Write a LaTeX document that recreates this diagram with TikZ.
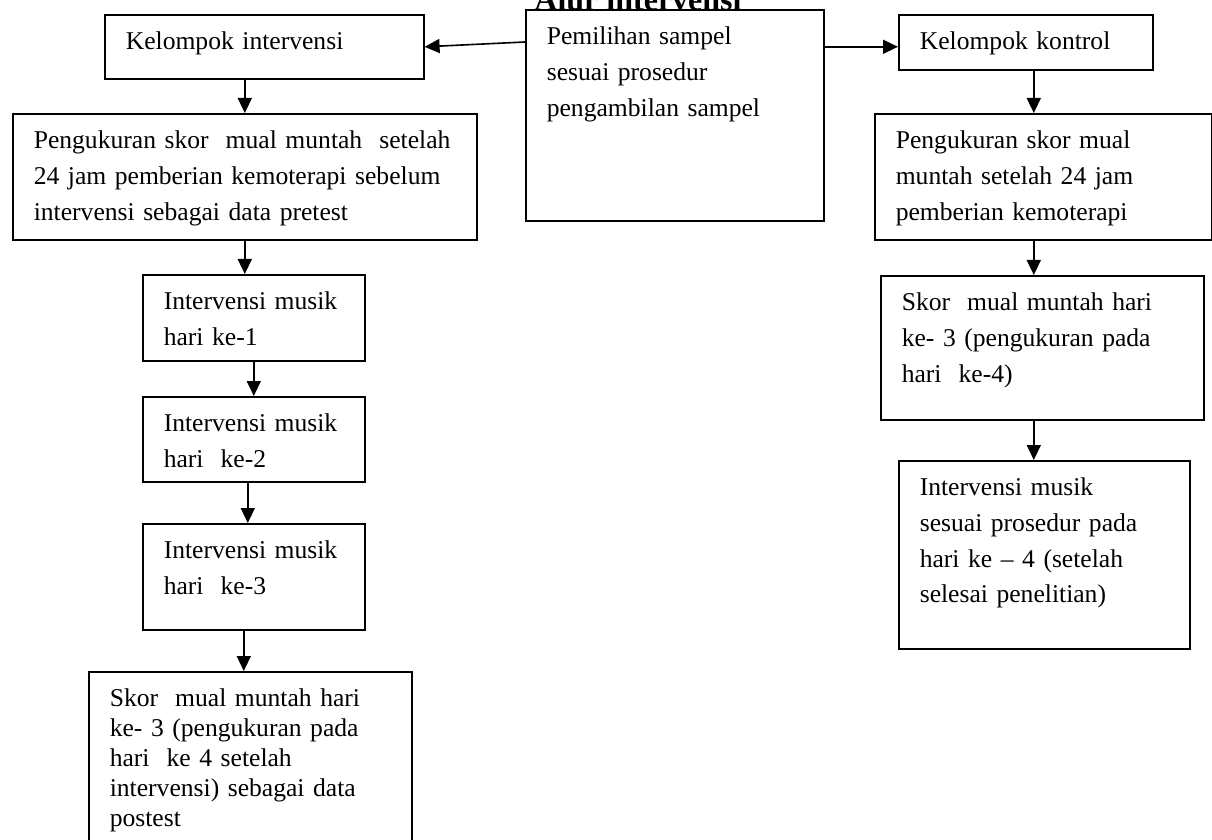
\documentclass[tikz,border=0pt]{standalone}
\usepackage{fontspec}
\setmainfont{Liberation Serif}
\usetikzlibrary{arrows.meta}
\tikzset{
  kotak/.style={draw, line width=0.8pt, anchor=north west, align=left,
    inner xsep=10.5pt, inner ysep=0pt, text height=17.5pt,
    font=\fontsize{12.8}{17.85}\selectfont},
  panah/.style={-{Triangle[length=7.5pt,width=7pt]}, line width=0.8pt}
}
\begin{document}
\begin{tikzpicture}[x=0.5pt,y=-0.5pt]
    \useasboundingbox (0,0) rectangle (1212,840);
    % Judul
    \node[font=\bfseries\fontsize{16}{19}\selectfont, anchor=base] (judul) at (638,11) {Alur intervensi};
    % Kotak tengah
    \node[kotak, text width=128pt, text depth=88pt] (pilih) at (525,9) {Pemilihan sampel\\sesuai prosedur\\pengambilan sampel};
    % Kelompok intervensi
    \node[kotak, text width=138.5pt, text depth=14.5pt] (kelInt) at (104,14) {Kelompok intervensi};
    \node[kotak, text width=211pt, text depth=45.5pt] (ukurInt) at (12,113) {\mbox{Pengukuran skor \ mual muntah \ setelah}\\24 jam pemberian kemoterapi sebelum\\intervensi sebagai data pretest};
    \node[kotak, text width=90pt, text depth=25.5pt] (hari1) at (142,274) {Intervensi musik\\hari ke-1};
    \node[kotak, text width=90pt, text depth=25pt] (hari2) at (142,396) {Intervensi musik\\hari \ ke-2};
    \node[kotak, text width=90pt, text depth=35.5pt] (hari3) at (142,523) {Intervensi musik\\hari \ ke-3};
    \node[kotak, text width=140.5pt, text depth=82.5pt, font=\fontsize{12.8}{15}\selectfont] (skorInt) at (88,671) {Skor \ mual muntah hari\\ke- 3 (pengukuran pada\\hari \ ke 4 setelah\\intervensi) sebagai data\\postest};
    % Kelompok kontrol
    \node[kotak, text width=106pt, text depth=10pt] (kelKon) at (898,14) {Kelompok kontrol};
    \node[kotak, text width=147.5pt, text depth=45.5pt] (ukurKon) at (874,113) {Pengukuran skor mual\\muntah setelah 24 jam\\pemberian kemoterapi};
    \node[kotak, text width=140.5pt, text depth=54.5pt] (skorKon) at (880,275) {Skor \ mual muntah hari\\ke- 3 (pengukuran pada\\hari \ ke-4)};
    \node[kotak, text width=124.5pt, text depth=76.5pt] (musikKon) at (898,460) {Intervensi musik\\sesuai prosedur pada\\hari ke -- 4 (setelah\\selesai penelitian)};
    % Panah
    \draw[panah] ([yshift=-16.5pt]pilih.north west) -- (kelInt.east);
    \draw[panah] (pilih.east |- kelInt.east) -- (kelKon.west |- kelInt.east);
    \draw[panah] (kelInt.south -| ukurInt.north) -- (ukurInt.north);
    \draw[panah] (ukurInt.south) -- (hari1.north -| ukurInt.south);
    \draw[panah] (hari1.south) -- (hari2.north);
    \draw[panah] ([xshift=-3pt]hari2.south) -- ([xshift=-3pt]hari3.north);
    \draw[panah] ([xshift=-5pt]hari3.south) -- ([xshift=-5pt]hari3.south |- skorInt.north);
    \draw[panah] ([xshift=4pt]kelKon.south) -- ([xshift=4pt]kelKon.south |- ukurKon.north);
    \draw[panah] ([xshift=4pt]kelKon.south |- ukurKon.south) -- ([xshift=4pt]kelKon.south |- skorKon.north);
    \draw[panah] ([xshift=4pt]kelKon.south |- skorKon.south) -- ([xshift=4pt]kelKon.south |- musikKon.north);
\end{tikzpicture}
\end{document}
